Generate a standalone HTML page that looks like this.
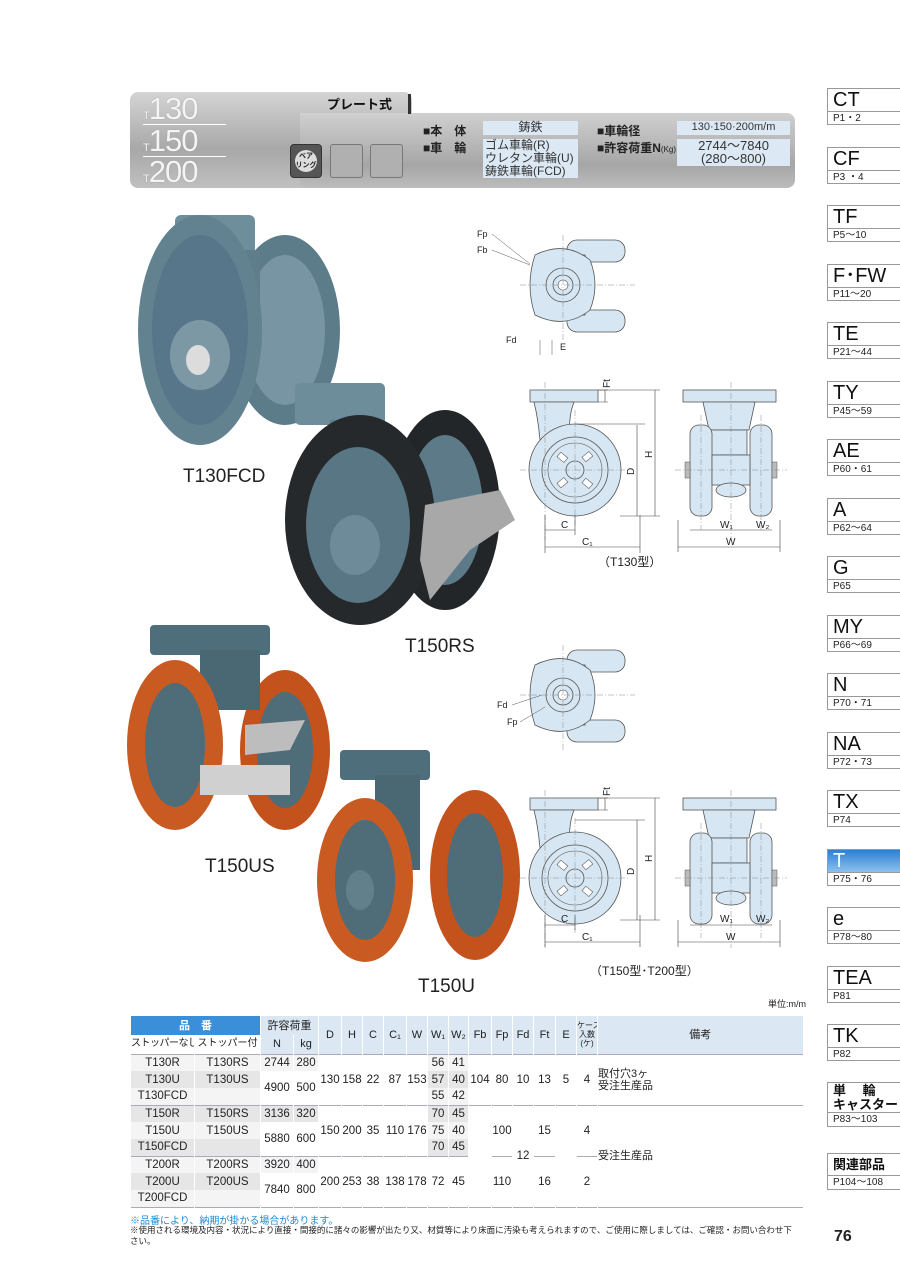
<!DOCTYPE html>
<html><head><meta charset="utf-8">
<style>
*{margin:0;padding:0;box-sizing:border-box}
body{width:900px;height:1273px;background:#fff;position:relative;overflow:hidden;font-family:"Liberation Sans","Noto Sans CJK JP",sans-serif;color:#222}
.abs{position:absolute}
.tab{position:absolute;left:827px;width:73px;height:37px;border:1px solid #999;border-right:none;background:#fff}
.tab .t{height:22px;font-size:20px;line-height:22px;padding-left:5px;color:#111}
.tab .s{height:14px;border-top:1px solid #999;font-size:10px;line-height:13px;padding-left:5px}
.tab.sel .t{background:linear-gradient(#2f7fd0,#8cc0ee);color:#fff}
.jp .t{font-size:13px;line-height:14px;height:29px;font-weight:bold;padding-top:1px}
table{border-collapse:collapse;table-layout:fixed;font-size:11.5px;position:absolute;left:130px;top:1016px;width:672px}
td{text-align:center;height:17px;padding:0;border-left:1px solid #fff;line-height:12px;white-space:nowrap;overflow:hidden}
th{font-weight:normal;background:#dbe7f3;border-left:1px solid #fff;font-size:11px;height:19px;line-height:12px;white-space:nowrap;overflow:hidden;padding:0}
tr.g td{border-top:1px solid #aab}
.gy{background:#e6e6e6}
.hl{background:#f4f4f4}
.lbl{font-size:12px;font-weight:bold}
.vbox{background:#dce9f5;font-size:12px;color:#333;text-align:center;line-height:13px}
.big{font-size:31px;line-height:28px;height:28px;letter-spacing:-1px}
</style></head><body>

<div class="abs" style="left:130px;top:92px;width:282px;height:96px;border-radius:8px 8px 0 8px;background:linear-gradient(#d4d4d4,#a8a8a8 60%,#c0c0c0);"></div>
<div class="abs" style="left:300px;top:113px;width:495px;height:75px;border-radius:0 8px 8px 8px;background:linear-gradient(#d0d0d0,#a6a6a6 70%,#bcbcbc);"></div>
<div class="abs" style="left:327px;top:94px;font-size:13px;font-weight:bold;color:#111">プレート式</div>
<div class="abs" style="left:408px;top:94px;width:3px;height:20px;background:#333"></div>
<div class="abs" style="left:143px;top:95px;color:#f4f4f4;text-shadow:0 0 1px #888">
<div class="big"><span style="font-size:11px">T</span>130</div>
<div style="width:83px;border-top:1px solid #fff;margin:1px 0 2px"></div>
<div class="big"><span style="font-size:11px">T</span>150</div>
<div style="width:83px;border-top:1px solid #fff;margin:1px 0 1px"></div>
<div class="big"><span style="font-size:11px">T</span>200</div></div>
<div class="abs" style="left:290px;top:144px;width:32px;height:34px;border-radius:4px;background:#555;border:1px solid #333"><div style="margin:5px auto;width:22px;height:22px;border-radius:50%;background:#ddd;font-size:7px;text-align:center;line-height:9px;padding-top:2px;font-weight:bold">ベア<br>リング</div></div>
<div class="abs" style="left:330px;top:144px;width:33px;height:34px;border:1px solid #777;border-radius:3px;background:#b0b0b0"></div>
<div class="abs" style="left:370px;top:144px;width:33px;height:34px;border:1px solid #777;border-radius:3px;background:#b0b0b0"></div>
<div class="abs lbl" style="left:423px;top:122px">■本　体</div>
<div class="abs lbl" style="left:423px;top:139px">■車　輪</div>
<div class="abs vbox" style="left:483px;top:121px;width:95px;height:14px">鋳鉄</div>
<div class="abs vbox" style="left:483px;top:139px;width:95px;height:39px;text-align:left;padding-left:2px">ゴム車輪(R)<br>ウレタン車輪(U)<br>鋳鉄車輪(FCD)</div>
<div class="abs lbl" style="left:597px;top:122px">■車輪径</div>
<div class="abs lbl" style="left:597px;top:139px">■許容荷重N<span style="font-size:8px;font-weight:normal">(Kg)</span></div>
<div class="abs vbox" style="left:677px;top:121px;width:113px;height:14px;font-size:11px">130·150·200m/m</div>
<div class="abs vbox" style="left:677px;top:139px;width:113px;height:27px;font-size:13px">2744〜7840<br>(280〜800)</div>

<div class="tab" style="top:88px"><div class="t">CT</div><div class="s">P1・2</div></div>
<div class="tab" style="top:147px"><div class="t">CF</div><div class="s">P3 ・4</div></div>
<div class="tab" style="top:205px"><div class="t">TF</div><div class="s">P5〜10</div></div>
<div class="tab" style="top:264px"><div class="t">F･FW</div><div class="s">P11〜20</div></div>
<div class="tab" style="top:322px"><div class="t">TE</div><div class="s">P21〜44</div></div>
<div class="tab" style="top:381px"><div class="t">TY</div><div class="s">P45〜59</div></div>
<div class="tab" style="top:439px"><div class="t">AE</div><div class="s">P60・61</div></div>
<div class="tab" style="top:498px"><div class="t">A</div><div class="s">P62〜64</div></div>
<div class="tab" style="top:556px"><div class="t">G</div><div class="s">P65</div></div>
<div class="tab" style="top:615px"><div class="t">MY</div><div class="s">P66〜69</div></div>
<div class="tab" style="top:673px"><div class="t">N</div><div class="s">P70・71</div></div>
<div class="tab" style="top:732px"><div class="t">NA</div><div class="s">P72・73</div></div>
<div class="tab" style="top:790px"><div class="t">TX</div><div class="s">P74</div></div>
<div class="tab sel" style="top:849px"><div class="t">T</div><div class="s">P75・76</div></div>
<div class="tab" style="top:907px"><div class="t">e</div><div class="s">P78〜80</div></div>
<div class="tab" style="top:966px"><div class="t">TEA</div><div class="s">P81</div></div>
<div class="tab" style="top:1024px"><div class="t">TK</div><div class="s">P82</div></div>
<div class="tab jp" style="top:1082px;height:45px"><div class="t">単　 輪<br>キャスター</div><div class="s">P83〜103</div></div>
<div class="tab jp" style="top:1153px;height:37px"><div class="t" style="height:21px;line-height:20px">関連部品</div><div class="s">P104〜108</div></div>

<svg class="abs" style="left:0;top:0" width="900" height="1273" viewBox="0 0 900 1273">
<defs>
<g id="side">
 <path d="M0,0 h68 v12 h-68z" fill="#d6e6f2" stroke="#555" stroke-width=".8"/>
 <path d="M4,12 h40 q-6,15 -4,38 h-30 q-2,-22 -6,-38z" fill="#d6e6f2" stroke="#555" stroke-width=".8"/>
 <circle cx="45" cy="80" r="46" fill="#d6e6f2" stroke="#555" stroke-width=".8"/>
 <circle cx="45" cy="80" r="33" fill="#d6e6f2" stroke="#555" stroke-width=".8"/>
 <circle cx="45" cy="80" r="27" fill="none" stroke="#555" stroke-width=".6"/>
 <circle cx="45" cy="80" r="9" fill="#d6e6f2" stroke="#555" stroke-width=".8"/>
 <g fill="#fff" stroke="#555" stroke-width=".6"><rect x="28" y="64" width="9" height="6" transform="rotate(40 32 67)"/><rect x="53" y="64" width="9" height="6" transform="rotate(-40 57 67)"/><rect x="28" y="90" width="9" height="6" transform="rotate(-40 32 93)"/><rect x="53" y="90" width="9" height="6" transform="rotate(40 57 93)"/></g>
 <path d="M-10,80 H100 M45,20 V135 M15,-8 V150" stroke="#888" stroke-width=".5" stroke-dasharray="6 2 1 2" fill="none"/>
</g>
<g id="front">
 <rect x="0" y="0" width="93" height="12" fill="#d6e6f2" stroke="#555" stroke-width=".8"/>
 <path d="M20,12 h52 l-6,28 h-40z" fill="#d6e6f2" stroke="#555" stroke-width=".8"/>
 <rect x="28" y="40" width="36" height="25" fill="#d6e6f2" stroke="#555" stroke-width=".8"/>
 <rect x="7" y="35" width="22" height="91" rx="9" fill="#d6e6f2" stroke="#555" stroke-width=".8"/>
 <rect x="67" y="35" width="22" height="91" rx="9" fill="#d6e6f2" stroke="#555" stroke-width=".8"/>
 <rect x="29" y="65" width="38" height="30" fill="#d6e6f2" stroke="#555" stroke-width=".8"/>
 <ellipse cx="48" cy="100" rx="15" ry="7" fill="#d6e6f2" stroke="#555" stroke-width=".8"/>
 <rect x="2" y="72" width="5" height="16" fill="#bbb" stroke="#555" stroke-width=".5"/>
 <rect x="89" y="72" width="5" height="16" fill="#bbb" stroke="#555" stroke-width=".5"/>
 <path d="M-8,80 H104 M18,25 V140 M78,25 V140 M48,-8 V150" stroke="#888" stroke-width=".5" stroke-dasharray="6 2 1 2" fill="none"/>
</g>
<g id="top">
 <rect x="42" y="-5" width="58" height="22" rx="10" fill="#d6e6f2" stroke="#555" stroke-width=".8"/>
 <rect x="42" y="65" width="58" height="22" rx="10" fill="#d6e6f2" stroke="#555" stroke-width=".8"/>
 <rect x="30" y="10" width="30" height="60" fill="#d6e6f2" stroke="#555" stroke-width=".8"/>
 <path d="M10,10 q30,-15 55,5 q10,25 0,50 q-25,20 -55,5 q-10,-30 0,-60z" fill="#d6e6f2" stroke="#555" stroke-width=".8"/>
 <circle cx="38" cy="40" r="17" fill="#d6e6f2" stroke="#555" stroke-width=".8"/>
 <circle cx="38" cy="40" r="10" fill="#d6e6f2" stroke="#555" stroke-width=".8"/>
 <circle cx="38" cy="40" r="5" fill="#fff" stroke="#555" stroke-width=".6"/>
 <path d="M-5,40 H110 M38,-10 V95" stroke="#888" stroke-width=".5" stroke-dasharray="6 2 1 2"/>
</g>
</defs>

<g>
 <ellipse cx="285" cy="330" rx="55" ry="95" fill="#5d7c8a"/>
 <ellipse cx="285" cy="330" rx="40" ry="75" fill="#7795a2"/>
 <rect x="175" y="215" width="80" height="40" rx="6" fill="#6f8e9c"/>
 <rect x="205" y="250" width="55" height="60" fill="#5f7d8b"/>
 <ellipse cx="200" cy="330" rx="62" ry="115" fill="#63828f"/>
 <ellipse cx="200" cy="330" rx="48" ry="95" fill="#58768a"/>
 <ellipse cx="200" cy="355" rx="30" ry="35" fill="#7d98a5"/>
 <ellipse cx="198" cy="360" rx="12" ry="15" fill="#dcdcdc"/>
</g>
<g>
 <ellipse cx="445" cy="510" rx="55" ry="100" fill="#232628"/>
 <ellipse cx="445" cy="510" rx="38" ry="75" fill="#5c7a88"/>
 <rect x="295" y="383" width="90" height="42" rx="5" fill="#6e8d9b"/>
 <rect x="330" y="420" width="50" height="70" fill="#5e7c8a"/>
 <ellipse cx="360" cy="520" rx="75" ry="105" fill="#25292c"/>
 <ellipse cx="358" cy="525" rx="52" ry="78" fill="#587684"/>
 <ellipse cx="355" cy="545" rx="25" ry="30" fill="#6d8b98"/>
 <path d="M425,505 L500,490 L515,520 L470,550 L430,600 L420,560z" fill="#a8a8a8"/>
</g>
<g>
 <ellipse cx="285" cy="750" rx="45" ry="80" fill="#c4521c"/>
 <ellipse cx="285" cy="750" rx="28" ry="58" fill="#4f6c79"/>
 <rect x="150" y="625" width="120" height="30" rx="4" fill="#4f6e7c"/>
 <rect x="200" y="650" width="60" height="60" fill="#4a6774"/>
 <ellipse cx="175" cy="745" rx="48" ry="85" fill="#c95a22"/>
 <ellipse cx="175" cy="745" rx="30" ry="62" fill="#4f6c79"/>
 <path d="M200,765 h90 v30 h-90z" fill="#d0d0d0"/>
 <path d="M245,725 l60,-5 l-15,30 l-45,5z" fill="#bdbdbd"/>
</g>
<g>
 <ellipse cx="475" cy="875" rx="45" ry="85" fill="#c4521c"/>
 <ellipse cx="475" cy="875" rx="28" ry="62" fill="#4f6c79"/>
 <rect x="340" y="750" width="90" height="30" rx="4" fill="#4f6e7c"/>
 <rect x="375" y="775" width="45" height="95" fill="#4a6774"/>
 <ellipse cx="365" cy="880" rx="48" ry="82" fill="#c95a22"/>
 <ellipse cx="365" cy="880" rx="30" ry="60" fill="#4f6c79"/>
 <ellipse cx="360" cy="890" rx="14" ry="20" fill="#627f8c"/>
</g>
<g font-size="19" fill="#222" font-family="Liberation Sans, sans-serif">
 <text x="183" y="482">T130FCD</text>
 <text x="405" y="652">T150RS</text>
 <text x="205" y="872">T150US</text>
 <text x="418" y="992">T150U</text>
</g>

<use href="#top" x="525" y="245"/>
<use href="#top" x="525" y="655"/>
<g font-size="9" fill="#222">
 <text x="477" y="237">Fp</text><text x="477" y="253">Fb</text>
 <path d="M492,234 l38,30 M492,250 l38,15" stroke="#555" stroke-width=".5"/>
 <text x="506" y="343">Fd</text><text x="560" y="350">E</text>
 <path d="M540,340 v15 M552,340 v15" stroke="#555" stroke-width=".5"/>
 <text x="497" y="708">Fd</text><text x="507" y="725">Fp</text>
 <path d="M512,705 l30,-10 M520,722 l25,-15" stroke="#555" stroke-width=".5"/>
</g>
<use href="#side" x="530" y="390"/>
<use href="#front" x="683" y="390"/>
<use href="#side" x="530" y="798"/>
<use href="#front" x="683" y="798"/>

<g stroke="#444" stroke-width=".6" fill="none">
 <path d="M605,390 v12 M598,390 h10 M598,402 h10"/>
 <path d="M637,425 v91 M655,390 v126 M575,424 h70 M598,390 h62 M620,516 h40"/>
 <path d="M545,530 h30 M545,547 h95 M545,515 v38 M575,515 v20 M640,515 v38"/>
 <path d="M690,530 h60 M750,530 h22 M678,547 h102 M678,520 v32 M780,520 v32"/>
 <path d="M605,798 v12 M598,798 h10 M598,810 h10"/>
 <path d="M637,820 v100 M655,798 v122 M575,820 h70 M598,798 h62 M620,920 h40"/>
 <path d="M545,925 h30 M545,942 h95 M545,915 v32 M575,915 v15 M640,915 v32"/>
 <path d="M690,925 h60 M750,925 h22 M678,942 h102 M678,920 v27 M780,920 v27"/>
</g>
<g font-size="10" fill="#222">
 <text x="610" y="388" transform="rotate(-90 610 388)">Ft</text>
 <text x="634" y="475" transform="rotate(-90 634 475)">D</text>
 <text x="652" y="458" transform="rotate(-90 652 458)">H</text>
 <text x="561" y="528">C</text><text x="582" y="545">C₁</text>
 <text x="720" y="528">W₁</text><text x="756" y="528">W₂</text><text x="726" y="545">W</text>
 <text x="598" y="566" font-size="12">（T130型）</text>
 <text x="610" y="796" transform="rotate(-90 610 796)">Ft</text>
 <text x="634" y="875" transform="rotate(-90 634 875)">D</text>
 <text x="652" y="862" transform="rotate(-90 652 862)">H</text>
 <text x="561" y="922">C</text><text x="582" y="940">C₁</text>
 <text x="720" y="922">W₁</text><text x="756" y="922">W₂</text><text x="726" y="940">W</text>
 <text x="590" y="975" font-size="12">（T150型･T200型）</text>
 <text x="768" y="1007" font-size="9">単位:m/m</text>
</g>
</svg>

<table>
<colgroup><col style="width:64px"><col style="width:66px"><col style="width:33px"><col style="width:25px"><col style="width:23px"><col style="width:21px"><col style="width:21px"><col style="width:23px"><col style="width:21px"><col style="width:21px"><col style="width:20px"><col style="width:23px"><col style="width:21px"><col style="width:21px"><col style="width:22px"><col style="width:21px"><col style="width:21px"><col style="width:205px"></colgroup>
<tr><th colspan="2" style="background:#3b8fd8;color:#fff;font-weight:bold">品　番</th><th colspan="2">許容荷重</th><th rowspan="2">D</th><th rowspan="2">H</th><th rowspan="2">C</th><th rowspan="2">C₁</th><th rowspan="2">W</th><th rowspan="2">W₁</th><th rowspan="2">W₂</th><th rowspan="2">Fb</th><th rowspan="2">Fp</th><th rowspan="2">Fd</th><th rowspan="2">Ft</th><th rowspan="2">E</th><th rowspan="2" style="font-size:8px;line-height:9px">ケース<br>入数<br>(ケ)</th><th rowspan="2">備考</th></tr>
<tr><th style="background:#fff;font-size:10px;letter-spacing:-0.5px">ストッパーなし</th><th style="background:#fff;font-size:10px">ストッパー付</th><th>N</th><th>kg</th></tr>
<tr class="g"><td class="hl">T130R</td><td class="hl">T130RS</td><td class="hl">2744</td><td class="hl">280</td><td rowspan="3">130</td><td rowspan="3">158</td><td rowspan="3">22</td><td rowspan="3">87</td><td rowspan="3">153</td><td class="hl">56</td><td class="hl">41</td><td rowspan="3">104</td><td rowspan="3">80</td><td rowspan="3">10</td><td rowspan="3">13</td><td rowspan="3">5</td><td rowspan="3">4</td><td rowspan="3" style="text-align:left;font-size:11px">取付穴3ヶ<br>受注生産品</td></tr>
<tr><td class="gy">T130U</td><td class="gy">T130US</td><td rowspan="2">4900</td><td rowspan="2">500</td><td class="gy">57</td><td class="gy">40</td></tr>
<tr><td class="hl">T130FCD</td><td class="hl"></td><td class="hl">55</td><td class="hl">42</td></tr>
<tr class="g"><td class="gy">T150R</td><td class="gy">T150RS</td><td class="gy">3136</td><td class="gy">320</td><td rowspan="3">150</td><td rowspan="3">200</td><td rowspan="3">35</td><td rowspan="3">110</td><td rowspan="3">176</td><td class="gy">70</td><td class="gy">45</td><td rowspan="6"></td><td rowspan="3">100</td><td rowspan="6">12</td><td rowspan="3">15</td><td rowspan="6"></td><td rowspan="3">4</td><td rowspan="6" style="text-align:left;font-size:11px">受注生産品</td></tr>
<tr><td class="hl">T150U</td><td class="hl">T150US</td><td rowspan="2">5880</td><td rowspan="2">600</td><td class="hl">75</td><td class="hl">40</td></tr>
<tr><td class="gy">T150FCD</td><td class="gy"></td><td class="gy">70</td><td class="gy">45</td></tr>
<tr><td class="hl" style="border-top:1px solid #aab">T200R</td><td class="hl" style="border-top:1px solid #aab">T200RS</td><td class="hl" style="border-top:1px solid #aab">3920</td><td class="hl" style="border-top:1px solid #aab">400</td><td rowspan="3" style="border-top:1px solid #aab">200</td><td rowspan="3" style="border-top:1px solid #aab">253</td><td rowspan="3" style="border-top:1px solid #aab">38</td><td rowspan="3" style="border-top:1px solid #aab">138</td><td rowspan="3" style="border-top:1px solid #aab">178</td><td rowspan="3" style="border-top:1px solid #aab">72</td><td rowspan="3" style="border-top:1px solid #aab">45</td><td rowspan="3" style="border-top:1px solid #aab">110</td><td rowspan="3" style="border-top:1px solid #aab">16</td><td rowspan="3" style="border-top:1px solid #aab">2</td></tr>
<tr><td class="gy">T200U</td><td class="gy">T200US</td><td rowspan="2">7840</td><td rowspan="2">800</td></tr>
<tr style="border-bottom:1px solid #aab"><td class="hl">T200FCD</td><td class="hl"></td></tr>
</table>

<div class="abs" style="left:130px;top:1212px;font-size:10px;color:#1f8ad0">※品番により、納期が掛かる場合があります。</div>
<div class="abs" style="left:130px;top:1225px;width:665px;font-size:8.5px;line-height:11px;color:#222">※使用される環境及内容・状況により直接・間接的に諸々の影響が出たり又、材質等により床面に汚染も考えられますので、ご使用に際しましては、ご確認・お問い合わせ下さい。</div>
<div class="abs" style="left:834px;top:1228px;font-size:16px;font-weight:bold">76</div>
</body></html>
